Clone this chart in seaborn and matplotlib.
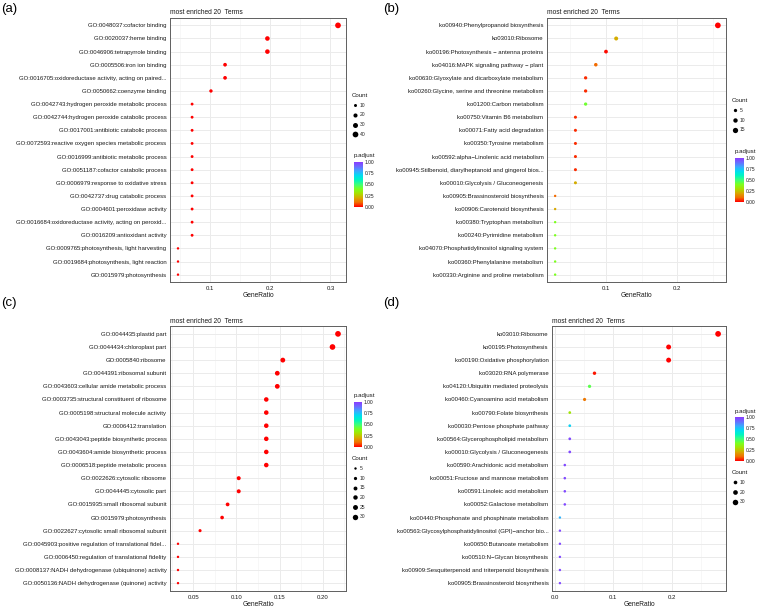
import numpy as np
import pandas as pd
import matplotlib
matplotlib.use('Agg')
import matplotlib.pyplot as plt
import seaborn as sns
from matplotlib.colors import LinearSegmentedColormap, Normalize
from matplotlib.cm import ScalarMappable
from matplotlib.lines import Line2D

# ---- data -------------------------------------------------------------
a_terms = ["GO:0048037:cofactor binding", "GO:0020037:heme binding",
           "GO:0046906:tetrapyrrole binding", "GO:0005506:iron ion binding",
           "GO:0016705:oxidoreductase activity, acting on paired...",
           "GO:0050662:coenzyme binding",
           "GO:0042743:hydrogen peroxide metabolic process",
           "GO:0042744:hydrogen peroxide catabolic process",
           "GO:0017001:antibiotic catabolic process",
           "GO:0072593:reactive oxygen species metabolic process",
           "GO:0016999:antibiotic metabolic process",
           "GO:0051187:cofactor catabolic process",
           "GO:0006979:response to oxidative stress",
           "GO:0042737:drug catabolic process",
           "GO:0004601:peroxidase activity",
           "GO:0016684:oxidoreductase activity, acting on peroxid...",
           "GO:0016209:antioxidant activity",
           "GO:0009765:photosynthesis, light harvesting",
           "GO:0019684:photosynthesis, light reaction",
           "GO:0015979:photosynthesis"]
a_ratio = [0.3125, 0.1953, 0.1953, 0.125, 0.125, 0.1016, 0.0703, 0.0703, 0.0703, 0.0703,
           0.0703, 0.0703, 0.0703, 0.0703, 0.0703, 0.0703, 0.0703, 0.0469, 0.0469, 0.0469]
a_count = [40, 25, 25, 16, 16, 13, 9, 9, 9, 9, 9, 9, 9, 9, 9, 9, 9, 6, 6, 6]
a_padj = [0.0001, 0.0001, 0.0001, 0.001, 0.001, 0.002, 0.001, 0.001, 0.001, 0.001,
          0.001, 0.001, 0.001, 0.001, 0.001, 0.001, 0.001, 0.003, 0.003, 0.003]

b_terms = ["ko00940:Phenylpropanoid biosynthesis", "ko03010:Ribosome",
           "ko00196:Photosynthesis \u2212 antenna proteins",
           "ko04016:MAPK signaling pathway \u2212 plant",
           "ko00630:Glyoxylate and dicarboxylate metabolism",
           "ko00260:Glycine, serine and threonine metabolism",
           "ko01200:Carbon metabolism", "ko00750:Vitamin B6 metabolism",
           "ko00071:Fatty acid degradation", "ko00350:Tyrosine metabolism",
           "ko00592:alpha\u2212Linolenic acid metabolism",
           "ko00945:Stilbenoid, diarylheptanoid and gingerol bios...",
           "ko00010:Glycolysis / Gluconeogenesis",
           "ko00905:Brassinosteroid biosynthesis", "ko00906:Carotenoid biosynthesis",
           "ko00380:Tryptophan metabolism", "ko00240:Pyrimidine metabolism",
           "ko04070:Phosphatidylinositol signaling system",
           "ko00360:Phenylalanine metabolism", "ko00330:Arginine and proline metabolism"]
b_ratio = [0.2571, 0.1143, 0.1, 0.0857, 0.0714, 0.0714, 0.0714, 0.0571, 0.0571, 0.0571,
           0.0571, 0.0571, 0.0571, 0.0286, 0.0286, 0.0286, 0.0286, 0.0286, 0.0286, 0.0286]
b_count = [18, 8, 7, 6, 5, 5, 5, 4, 4, 4, 4, 4, 4, 2, 2, 2, 2, 2, 2, 2]
b_padj = [0.001, 0.21, 0.01, 0.1, 0.04, 0.04, 0.42, 0.04, 0.04, 0.04,
          0.04, 0.04, 0.21, 0.1, 0.2, 0.4, 0.4, 0.4, 0.4, 0.4]

c_terms = ["GO:0044435:plastid part", "GO:0044434:chloroplast part",
           "GO:0005840:ribosome", "GO:0044391:ribosomal subunit",
           "GO:0043603:cellular amide metabolic process",
           "GO:0003735:structural constituent of ribosome",
           "GO:0005198:structural molecule activity", "GO:0006412:translation",
           "GO:0043043:peptide biosynthetic process",
           "GO:0043604:amide biosynthetic process",
           "GO:0006518:peptide metabolic process", "GO:0022626:cytosolic ribosome",
           "GO:0044445:cytosolic part", "GO:0015935:small ribosomal subunit",
           "GO:0015979:photosynthesis", "GO:0022627:cytosolic small ribosomal subunit",
           "GO:0045903:positive regulation of translational fidel...",
           "GO:0006450:regulation of translational fidelity",
           "GO:0008137:NADH dehydrogenase (ubiquinone) activity",
           "GO:0050136:NADH dehydrogenase (quinone) activity"]
c_ratio = [0.2179, 0.2115, 0.1538, 0.1474, 0.1474, 0.1346, 0.1346, 0.1346, 0.1346, 0.1346,
           0.1346, 0.1026, 0.1026, 0.0897, 0.0833, 0.0577, 0.0321, 0.0321, 0.0321, 0.0321]
c_count = [34, 33, 24, 23, 23, 21, 21, 21, 21, 21, 21, 16, 16, 14, 13, 9, 5, 5, 5, 5]
c_padj = [0.0001] * 16 + [0.002, 0.002, 0.003, 0.003]

d_terms = ["ko03010:Ribosome", "ko00195:Photosynthesis",
           "ko00190:Oxidative phosphorylation", "ko03020:RNA polymerase",
           "ko04120:Ubiquitin mediated proteolysis",
           "ko00460:Cyanoamino acid metabolism", "ko00790:Folate biosynthesis",
           "ko00030:Pentose phosphate pathway",
           "ko00564:Glycerophospholipid metabolism",
           "ko00010:Glycolysis / Gluconeogenesis",
           "ko00590:Arachidonic acid metabolism",
           "ko00051:Fructose and mannose metabolism",
           "ko00591:Linoleic acid metabolism", "ko00052:Galactose metabolism",
           "ko00440:Phosphonate and phosphinate metabolism",
           "ko00563:Glycosylphosphatidylinositol (GPI)\u2212anchor bio...",
           "ko00650:Butanoate metabolism", "ko00510:N\u2212Glycan biosynthesis",
           "ko00909:Sesquiterpenoid and triterpenoid biosynthesis",
           "ko00905:Brassinosteroid biosynthesis"]
d_ratio = [0.2797, 0.1949, 0.1949, 0.0678, 0.0593, 0.0508, 0.0254, 0.0254, 0.0254, 0.0254,
           0.0169, 0.0169, 0.0169, 0.0169, 0.0085, 0.0085, 0.0085, 0.0085, 0.0085, 0.0085]
d_count = [33, 23, 23, 8, 7, 6, 3, 3, 3, 3, 2, 2, 2, 2, 1, 1, 1, 1, 1, 1]
d_padj = [0.0001, 0.0001, 0.0001, 0.02, 0.45, 0.12, 0.32, 0.72, 0.97, 0.97,
          0.97, 0.97, 0.97, 0.97, 0.78, 0.97, 0.97, 0.97, 0.97, 0.97]

# ---- style ------------------------------------------------------------
W, H = 757, 607
sns.set_style('white')
plt.rcParams['font.family'] = ['Liberation Sans', 'DejaVu Sans']

cmap = LinearSegmentedColormap.from_list('padj', [
    (0.00, '#FF0000'), (0.10, '#F26D00'), (0.20, '#D8A800'), (0.30, '#A8E000'),
    (0.40, '#7CFF1E'), (0.50, '#3CFF7A'), (0.60, '#00F5C0'), (0.70, '#00DDF0'),
    (0.80, '#3CA8FF'), (0.90, '#6A6CFF'), (1.00, '#8A3CFF')])
S_MIN, S_MAX = 3.0, 17.0
TXT = '#1A1A1A'


def px_box(l, t, r, b):
    return [l / W, 1 - b / H, (r - l) / W, (b - t) / H]


def area(c, lo, hi):
    return S_MIN + (S_MAX - S_MIN) * np.clip((c - lo) / (hi - lo), 0, 1)


fig = plt.figure(figsize=(W / 100, H / 100), dpi=100)

panels = [
    dict(tag='(a)', terms=a_terms, ratio=a_ratio, count=a_count, padj=a_padj,
         box=(170, 17.5, 346, 282.5), tag_xy=(1, 9),
         major=[0.1, 0.2, 0.3], labels=['0.1', '0.2', '0.3'], minor=[0.05, 0.15, 0.25],
         count_vals=[10, 20, 30, 40], count_xy=(352, 93),
         cbar=(354, 162, 363, 207), cbar_title_y=155),
    dict(tag='(b)', terms=b_terms, ratio=b_ratio, count=b_count, padj=b_padj,
         box=(547, 17.5, 726, 282.5), tag_xy=(383, 9),
         major=[0.1, 0.2], labels=['0.1', '0.2'], minor=[0.05, 0.15, 0.25],
         count_vals=[5, 10, 15], count_xy=(732, 98),
         cbar=(735, 158, 744, 202), cbar_title_y=152),
    dict(tag='(c)', terms=c_terms, ratio=c_ratio, count=c_count, padj=c_padj,
         box=(170, 326, 346, 591), tag_xy=(1, 303),
         major=[0.05, 0.10, 0.15, 0.20], labels=['0.05', '0.10', '0.15', '0.20'],
         minor=[0.025, 0.075, 0.125, 0.175, 0.225],
         count_vals=[5, 10, 15, 20, 25, 30], count_xy=(352, 456),
         cbar=(354, 402, 362, 447), cbar_title_y=395),
    dict(tag='(d)', terms=d_terms, ratio=d_ratio, count=d_count, padj=d_padj,
         box=(552, 326, 726, 591), tag_xy=(383, 303),
         major=[0.0, 0.1, 0.2], labels=['0.0', '0.1', '0.2'], minor=[0.05, 0.15, 0.25],
         count_vals=[10, 20, 30], count_xy=(732, 470),
         cbar=(735, 417, 744, 461), cbar_title_y=411),
]

for p in panels:
    df = pd.DataFrame({'term': p['terms'], 'GeneRatio': p['ratio'],
                       'Count': p['count'], 'p.adjust': p['padj']})
    lo, hi = min(p['count']), max(p['count'])
    ax = fig.add_axes(px_box(*p['box']))
    sns.scatterplot(data=df, x='GeneRatio', y='term', hue='p.adjust', palette=cmap,
                    hue_norm=(0, 1), size='Count', sizes=(S_MIN, S_MAX),
                    size_norm=(lo, hi), linewidth=0, legend=False, ax=ax, zorder=3)
    n = len(p['terms'])
    ax.set_ylim(n - 0.4, -0.6)
    rlo, rhi = min(p['ratio']), max(p['ratio'])
    pad = 0.05 * (rhi - rlo)
    ax.set_xlim(rlo - pad, rhi + pad)
    ax.set_xticks(p['major'])
    ax.set_xticklabels(p['labels'])
    ax.set_xticks(p['minor'], minor=True)
    ax.set_axisbelow(True)
    ax.grid(which='major', color='#EBEBEB', lw=0.7)
    ax.grid(which='minor', axis='x', color='#F3F3F3', lw=0.45)
    for s in ax.spines.values():
        s.set_color('#5F5F5F')
        s.set_linewidth(0.7)
    ax.tick_params(which='major', length=1.8, width=0.5, color='#5F5F5F', pad=0.8,
                   labelsize=4.3, labelcolor=TXT)
    ax.tick_params(which='minor', length=0)
    ax.set_ylabel('')
    ax.set_xlabel('GeneRatio', fontsize=4.8, color=TXT, labelpad=1)
    ax.set_title('most enriched 20  Terms', loc='left', fontsize=4.8, color=TXT, pad=2.5)
    fig.text(p['tag_xy'][0] / W, 1 - p['tag_xy'][1] / H, p['tag'], fontsize=9.5,
             ha='left', va='center', color='black')

    # Count legend
    handles = [Line2D([], [], marker='o', ls='', color='black', markeredgewidth=0,
                      markersize=np.sqrt(area(v, lo, hi))) for v in p['count_vals']]
    leg = ax.legend(handles, [str(v) for v in p['count_vals']], title='Count',
                    loc='upper left', frameon=False, fontsize=3.6, title_fontsize=4.4,
                    bbox_to_anchor=(p['count_xy'][0] / W, 1 - p['count_xy'][1] / H),
                    bbox_transform=fig.transFigure, borderpad=0, borderaxespad=0,
                    handlelength=1.0, handletextpad=0.6, labelspacing=0.95,
                    alignment='left')
    leg.get_title().set_color(TXT)

    # p.adjust colour bar
    cax = fig.add_axes(px_box(*p['cbar']))
    cb = fig.colorbar(ScalarMappable(norm=Normalize(0, 1), cmap=cmap), cax=cax)
    cb.outline.set_visible(False)
    cb.set_ticks([0, 0.25, 0.5, 0.75, 1.0])
    cb.set_ticklabels(['0.00', '0.25', '0.50', '0.75', '1.00'])
    cax.tick_params(length=1.5, width=0.4, color='white', direction='in', pad=1.5,
                    labelsize=3.5, labelcolor=TXT)
    fig.text(p['cbar'][0] / W, 1 - p['cbar_title_y'] / H, 'p.adjust', fontsize=4.4,
             color=TXT, ha='left', va='center')

fig.savefig('out.png', dpi=100)
